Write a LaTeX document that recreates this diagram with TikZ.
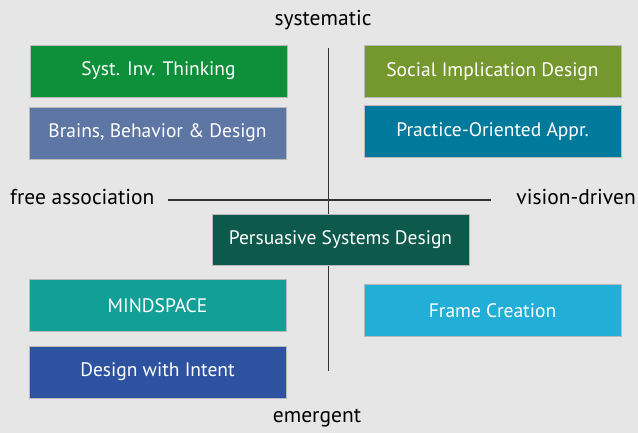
\documentclass[tikz,border=0pt]{standalone}
\usepackage{fontspec}
\setmainfont{PT Sans}
\usepackage{tikz}

\definecolor{bgcol}{HTML}{E6E6E6}
\definecolor{axiscol}{HTML}{333333}
\definecolor{systgreen}{HTML}{0E8F3A}
\definecolor{brainsblue}{HTML}{5E76A4}
\definecolor{socialgreen}{HTML}{74972E}
\definecolor{practiceblue}{HTML}{007A9C}
\definecolor{persuasivegreen}{HTML}{0D5A4C}
\definecolor{mindteal}{HTML}{12A096}
\definecolor{intentblue}{HTML}{2C52A0}
\definecolor{framecyan}{HTML}{22AED6}

\tikzset{
  approach/.style={draw=gray!55, line width=0.6pt, text=white, minimum width=257pt, minimum height=52pt, inner sep=0pt, font=\fontsize{19.5}{22}\selectfont},
  axislabel/.style={text=black, inner sep=0pt, font=\fontsize{21.5}{24}\selectfont},
  axis/.style={draw=axiscol, line width=1.4pt}
}

\begin{document}
\begin{tikzpicture}[x=1pt,y=-1pt]
\fill[bgcol] (0,0) rectangle (638,433);
\useasboundingbox (0,0) rectangle (638,433);
% axes
\coordinate (west) at (168,200);
\coordinate (east) at (491,200);
\coordinate (north) at (328.5,48);
\coordinate (south) at (328.5,371);
\draw[axis] (west) -- (east);
\draw[axis] (north) -- (south);
\node[axislabel] (sys) at (323,20) {systematic};
\node[axislabel] (emg) at (317,418) {emergent};
\node[axislabel, anchor=west] (free) at (10,197) {free association};
\node[axislabel, anchor=east] (vis) at (636,197) {vision-driven};
% approaches
\node[approach, fill=systgreen] (syst) at (158.5,71) {Syst. Inv. Thinking};
\node[approach, fill=brainsblue] (brains) at (157.5,133) {Brains, Behavior \& Design};
\node[approach, fill=socialgreen] (social) at (492.5,71.5) {Social Implication Design};
\node[approach, fill=practiceblue] (practice) at (492.5,131.5) {Practice-Oriented Appr.};
\node[approach, fill=persuasivegreen, minimum height=51pt] (persuasive) at (340.5,239.5) {Persuasive Systems Design};
\node[approach, fill=mindteal] (mind) at (157.5,305.5) {MINDSPACE};
\node[approach, fill=intentblue] (intent) at (157.5,372) {Design with Intent};
\node[approach, fill=framecyan] (frame) at (492.5,310.5) {Frame Creation};
\end{tikzpicture}
\end{document}
